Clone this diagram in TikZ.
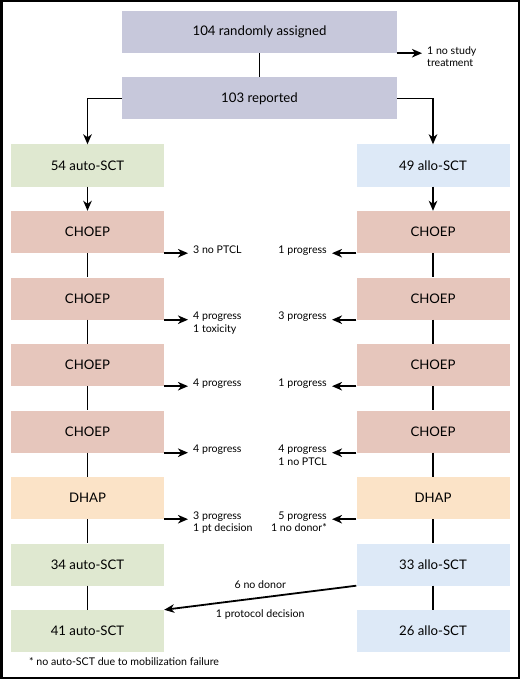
\documentclass[tikz,border=0pt]{standalone}
\usepackage{fontspec}
\setmainfont{Lato}
\usepackage{tikz}
\usetikzlibrary{arrows.meta}

\definecolor{trialgray}{HTML}{C7C8DB}
\definecolor{autogreen}{HTML}{DFE8D0}
\definecolor{alloblue}{HTML}{DDE9F7}
\definecolor{choeppink}{HTML}{E6C6BC}
\definecolor{dhapsand}{HTML}{FBE3C7}

\tikzset{
	box/.style={shape=rectangle, minimum width=153pt, minimum height=42pt, inner sep=0pt, font=\fontsize{13.2}{15}\selectfont},
	widebox/.style={box, fill=trialgray, minimum width=275pt},
	autobox/.style={box, fill=autogreen},
	allobox/.style={box, fill=alloblue},
	choepbox/.style={box, fill=choeppink},
	dhapbox/.style={box, fill=dhapsand},
	note/.style={inner sep=0pt, font=\fontsize{10.6}{12.4}\selectfont},
	leftnote/.style={note, align=left, anchor=north west},
	rightnote/.style={note, align=right, anchor=north east},
	link/.style={line width=1.8pt},
	arr/.style={link, -{Stealth[length=10pt,width=8.5pt,inset=3pt]}, shorten >=5pt},
}

\begin{document}
\begin{tikzpicture}[x=1pt,y=-1pt]
	
	\useasboundingbox (0,0) rectangle (520,679);
	\draw[line width=2.5pt] (1.25,1.25) rectangle (518.75,677.75);
	
	\node[widebox] (rand) at (259.5, 32)     {104 randomly assigned};
	\node[widebox] (rep) at (259.5, 98.5)     {103 reported};
	\node[leftnote] (notreat) at (427, 46.5)     {1 no study\\treatment};
	
	\node[autobox] (l0) at (87.5, 165.5)     {54 auto-SCT};
	\node[choepbox] (l1) at (87.5, 232)     {CHOEP};
	\node[choepbox] (l2) at (87.5, 298.5)     {CHOEP};
	\node[choepbox] (l3) at (87.5, 365)     {CHOEP};
	\node[choepbox] (l4) at (87.5, 431.5)     {CHOEP};
	\node[dhapbox] (l5) at (87.5, 498)     {DHAP};
	\node[autobox] (l6) at (87.5, 564.5)     {34 auto-SCT};
	\node[autobox] (l7) at (87.5, 631)     {41 auto-SCT};
	
	\node[allobox] (r0) at (433, 165.5)     {49 allo-SCT};
	\node[choepbox] (r1) at (433, 232)     {CHOEP};
	\node[choepbox] (r2) at (433, 298.5)     {CHOEP};
	\node[choepbox] (r3) at (433, 365)     {CHOEP};
	\node[choepbox] (r4) at (433, 431.5)     {CHOEP};
	\node[dhapbox] (r5) at (433, 498)     {DHAP};
	\node[allobox] (r6) at (433, 564.5)     {33 allo-SCT};
	\node[allobox] (r7) at (433, 631)     {26 allo-SCT};
	
	% drop-outs, auto arm
	\node[leftnote] (ln1) at (193, 245.5)     {3 no PTCL};
	\node[leftnote] (ln2) at (193, 312)     {4 progress\\1 toxicity};
	\node[leftnote] (ln3) at (193, 378.5)     {4 progress};
	\node[leftnote] (ln4) at (193, 445)     {4 progress};
	\node[leftnote] (ln5) at (193, 511.5)     {3 progress\\1 pt decision};
	
	% drop-outs, allo arm
	\node[rightnote] (rn1) at (327, 245.5)     {1 progress};
	\node[rightnote] (rn2) at (327, 312)     {3 progress};
	\node[rightnote] (rn3) at (327, 378.5)     {1 progress};
	\node[rightnote] (rn4) at (327, 445)     {4 progress\\1 no PTCL};
	\node[rightnote] (rn5) at (327, 511.5)     {5 progress\\1 no donor*};
	
	\node[note, anchor=west] (foot) at (29, 662)     {* no auto-SCT due to mobilization failure};
	
	\path[link] (rand) edge (rep);
	\draw[arr] (rand.south east) -- (rand.south east -| notreat.west);
	\draw[arr, shorten >=0pt] (rep.west) -| (l0.north);
	\draw[arr, shorten >=0pt] (rep.east) -| (r0.north);
	
	\draw[arr, shorten >=0pt] (l0) -- (l1);
	\path[link] (l1) edge (l2);
	\path[link] (l2) edge (l3);
	\path[link] (l3) edge (l4);
	\path[link] (l4) edge (l5);
	\path[link] (l5) edge (l6);
	\path[link] (l6) edge (l7);
	
	\draw[arr, shorten >=0pt] (r0) -- (r1);
	\path[link] (r1) edge (r2);
	\path[link] (r2) edge (r3);
	\path[link] (r3) edge (r4);
	\path[link] (r4) edge (r5);
	\path[link] (r5) edge (r6);
	\path[link] (r6) edge (r7);
	
	\draw[arr] (l1.south east) -- (l1.south east -| ln1.west);
	\draw[arr] (l2.south east) -- (l2.south east -| ln2.west);
	\draw[arr] (l3.south east) -- (l3.south east -| ln3.west);
	\draw[arr] (l4.south east) -- (l4.south east -| ln4.west);
	\draw[arr] (l5.south east) -- (l5.south east -| ln5.west);
	
	\draw[arr] (r1.south west) -- (r1.south west -| rn1.east);
	\draw[arr] (r2.south west) -- (r2.south west -| rn2.east);
	\draw[arr] (r3.south west) -- (r3.south west -| rn3.east);
	\draw[arr] (r4.south west) -- (r4.south west -| rn4.east);
	\draw[arr] (r5.south west) -- (r5.south west -| rn5.east);
	
	\draw[arr, shorten >=0pt] (r6.south west) -- (l7.north east)
		node[note, midway, yshift=13pt] (nodonor) {6 no donor}
		node[note, midway, yshift=-17pt] (protocol) {1 protocol decision};
	
\end{tikzpicture}
\end{document}
